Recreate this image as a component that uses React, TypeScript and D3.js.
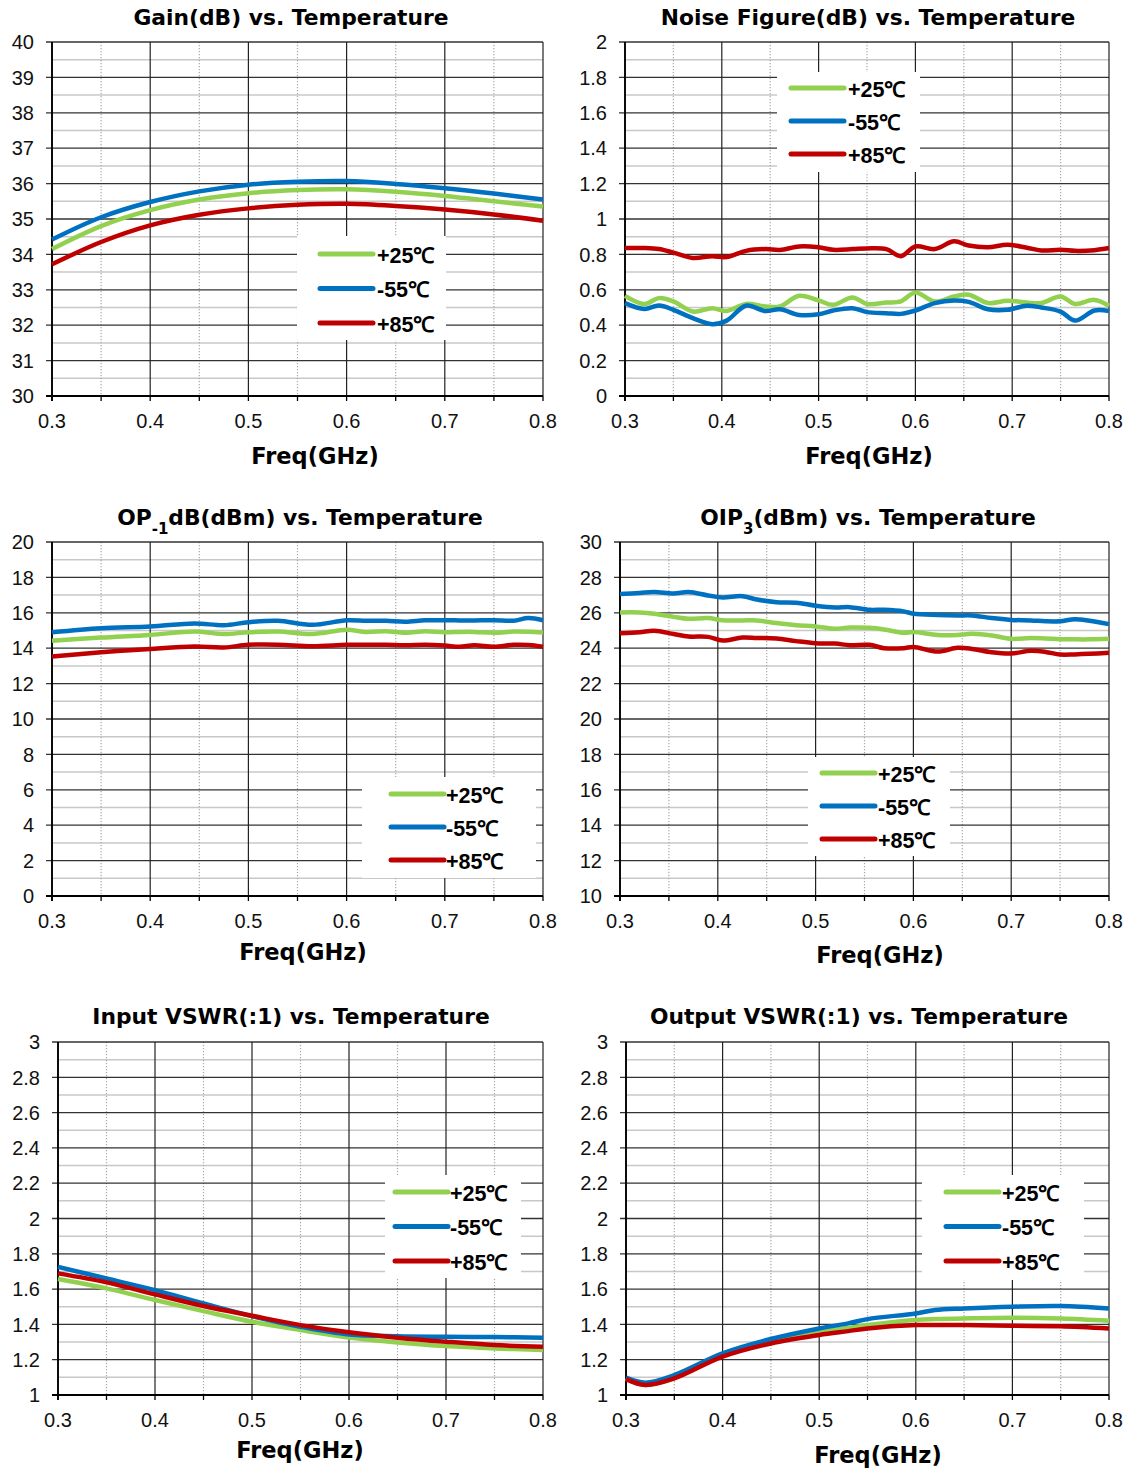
import * as d3 from 'd3'
import React from 'react'

// colours of the three temperature curves
const GREEN = '#92D050'
const BLUE = '#0070C0'
const RED = '#C00000'
const legendLabels = ['+25℃', '-55℃', '+85℃']

// Gain(dB)
const gainFreq = [0.3, 0.35, 0.4, 0.45, 0.5, 0.55, 0.6, 0.65, 0.7, 0.75, 0.8]
const gain25 = [34.15, 34.8, 35.25, 35.55, 35.73, 35.82, 35.84, 35.77, 35.65, 35.5, 35.35]
const gainM55 = [34.42, 35.05, 35.48, 35.78, 35.97, 36.05, 36.07, 35.99, 35.87, 35.72, 35.55]
const gain85 = [33.72, 34.35, 34.82, 35.12, 35.3, 35.4, 35.43, 35.37, 35.27, 35.13, 34.95]

// Noise figure(dB)
const nfFreq = [0.3, 0.32, 0.335, 0.35, 0.37, 0.39, 0.405, 0.425, 0.445, 0.46, 0.48, 0.5, 0.515, 0.535, 0.55,
  0.57, 0.585, 0.6, 0.62, 0.64, 0.655, 0.675, 0.695, 0.715, 0.73, 0.75, 0.765, 0.785, 0.8]
const nf25 = [0.566, 0.52, 0.553, 0.534, 0.477, 0.496, 0.48, 0.52, 0.506, 0.506, 0.566, 0.54, 0.515, 0.557, 0.52,
  0.528, 0.535, 0.585, 0.534, 0.562, 0.572, 0.525, 0.538, 0.528, 0.525, 0.562, 0.52, 0.543, 0.51]
const nfM55 = [0.525, 0.492, 0.511, 0.487, 0.44, 0.406, 0.426, 0.51, 0.48, 0.49, 0.458, 0.462, 0.483, 0.496, 0.474,
  0.468, 0.464, 0.483, 0.525, 0.54, 0.532, 0.49, 0.487, 0.51, 0.5, 0.477, 0.426, 0.483, 0.48]
const nf85 = [0.836, 0.836, 0.83, 0.81, 0.78, 0.79, 0.785, 0.82, 0.83, 0.825, 0.845, 0.84, 0.826, 0.83, 0.834,
  0.83, 0.79, 0.845, 0.83, 0.874, 0.85, 0.84, 0.855, 0.838, 0.822, 0.826, 0.82, 0.824, 0.836]

// OP-1dB(dBm)
const p1Freq = [0.3, 0.35, 0.4, 0.445, 0.475, 0.5, 0.53, 0.565, 0.6, 0.62, 0.64, 0.66, 0.68, 0.7, 0.715, 0.73, 0.75, 0.77, 0.785, 0.8]
const p125 = [14.42, 14.6, 14.75, 14.94, 14.8, 14.9, 14.94, 14.8, 15.04, 14.92, 14.96, 14.87, 14.96, 14.9, 14.92, 14.92, 14.87, 14.94, 14.93, 14.89]
const p1M55 = [14.9, 15.13, 15.23, 15.4, 15.3, 15.47, 15.55, 15.32, 15.58, 15.55, 15.55, 15.5, 15.58, 15.58, 15.57, 15.57, 15.58, 15.55, 15.7, 15.58]
const p185 = [13.53, 13.77, 13.96, 14.09, 14.04, 14.19, 14.2, 14.11, 14.19, 14.19, 14.19, 14.17, 14.2, 14.15, 14.08, 14.17, 14.08, 14.19, 14.18, 14.08]

// OIP3(dBm)
const ip3Freq = [0.3, 0.32, 0.335, 0.355, 0.37, 0.39, 0.405, 0.425, 0.44, 0.46, 0.48, 0.5, 0.52, 0.535, 0.555,
  0.57, 0.59, 0.6, 0.625, 0.645, 0.66, 0.68, 0.7, 0.72, 0.735, 0.75, 0.765, 0.78, 0.8]
const ip325 = [26.02, 26.02, 25.95, 25.77, 25.66, 25.7, 25.58, 25.57, 25.57, 25.42, 25.3, 25.23, 25.1, 25.17, 25.15,
  25.06, 24.87, 24.91, 24.75, 24.75, 24.81, 24.72, 24.53, 24.58, 24.55, 24.51, 24.5, 24.5, 24.53]
const ip3M55 = [27.06, 27.12, 27.17, 27.09, 27.17, 26.98, 26.87, 26.94, 26.75, 26.6, 26.57, 26.4, 26.3, 26.32, 26.17,
  26.17, 26.08, 25.95, 25.88, 25.85, 25.85, 25.7, 25.6, 25.57, 25.52, 25.52, 25.64, 25.55, 25.36]
const ip385 = [24.85, 24.9, 24.98, 24.8, 24.66, 24.64, 24.43, 24.6, 24.58, 24.55, 24.4, 24.28, 24.26, 24.17, 24.19,
  24.0, 24.0, 24.07, 23.81, 24.02, 23.96, 23.77, 23.7, 23.85, 23.79, 23.64, 23.65, 23.68, 23.74]

// Input VSWR
const inFreq = [0.3, 0.35, 0.4, 0.45, 0.5, 0.55, 0.6, 0.65, 0.7, 0.75, 0.8]
const in25 = [1.657, 1.604, 1.538, 1.475, 1.415, 1.368, 1.326, 1.298, 1.277, 1.264, 1.255]
const inM55 = [1.726, 1.66, 1.594, 1.519, 1.447, 1.387, 1.343, 1.333, 1.33, 1.328, 1.325]
const in85 = [1.689, 1.638, 1.57, 1.504, 1.449, 1.396, 1.355, 1.325, 1.302, 1.283, 1.274]

// Output VSWR
const outFreq = [0.3, 0.32, 0.35, 0.4, 0.45, 0.5, 0.53, 0.55, 0.6, 0.62, 0.65, 0.7, 0.75, 0.8]
const out25 = [1.094, 1.057, 1.098, 1.223, 1.302, 1.358, 1.38, 1.396, 1.425, 1.43, 1.434, 1.438, 1.434, 1.421]
const outM55 = [1.098, 1.07, 1.113, 1.236, 1.317, 1.377, 1.406, 1.43, 1.462, 1.481, 1.49, 1.5, 1.504, 1.49]
const out85 = [1.09, 1.057, 1.094, 1.217, 1.292, 1.34, 1.362, 1.377, 1.396, 1.397, 1.396, 1.392, 1.39, 1.377]

const TICK_FONT = 'Liberation Sans, Arial, sans-serif'
const BOLD_FONT = 'DejaVu Sans, Verdana, sans-serif'

function Panel(props) {
  const { box, yMin, yMax, yStep, title, titleX, titleY, xTitleX, xTitleY, legend, freq, series } = props
  const x = d3.scaleLinear().domain([0.3, 0.8]).range([box.l, box.r])
  const y = d3.scaleLinear().domain([yMin, yMax]).range([box.b, box.t])

  const n = Math.round((yMax - yMin) / yStep)
  const majorY = d3.range(n + 1).map(i => +(yMin + i * yStep).toFixed(4))
  const minorY = d3.range(n).map(i => yMin + (i + 0.5) * yStep)
  const majorX = d3.range(6).map(i => +(0.3 + i * 0.1).toFixed(2))
  const minorX = d3.range(5).map(i => 0.35 + i * 0.1)
  const allX = d3.range(11).map(i => 0.3 + i * 0.05)

  const line = d3.line().x(d => x(d[0])).y(d => y(d[1])).curve(d3.curveCatmullRom.alpha(0.5))
  const colors = [GREEN, BLUE, RED]

  return (
    <g>
      {/* minor grid */}
      {minorY.map((v, i) => (
        <line key={'my' + i} x1={box.l} x2={box.r} y1={y(v)} y2={y(v)} stroke="#c8c8c8" strokeWidth={1.5} />
      ))}
      {minorX.map((v, i) => (
        <line key={'mx' + i} x1={x(v)} x2={x(v)} y1={box.t} y2={box.b} stroke="#a8a8a8" strokeWidth={1.2} strokeDasharray="1.2,1.8" />
      ))}
      {/* major grid */}
      {majorY.map((v, i) => (
        <line key={'gy' + i} x1={box.l - 6} x2={box.r} y1={y(v)} y2={y(v)} stroke="#333" strokeWidth={1.3} />
      ))}
      {majorX.map((v, i) => (
        <line key={'gx' + i} x1={x(v)} x2={x(v)} y1={box.t} y2={box.b} stroke="#222" strokeWidth={1.2} />
      ))}
      {/* axes */}
      <line x1={box.l} x2={box.l} y1={box.t} y2={box.b + 5} stroke="#000" strokeWidth={1.8} />
      <line x1={box.l - 6} x2={box.r} y1={box.b} y2={box.b} stroke="#000" strokeWidth={1.8} />
      {allX.map((v, i) => (
        <line key={'tx' + i} x1={x(v)} x2={x(v)} y1={box.b} y2={box.b + 5} stroke="#000" strokeWidth={1.3} />
      ))}
      {majorY.map((v, i) => (
        <text key={'ly' + i} x={box.l - 18} y={y(v)} dy="0.36em" textAnchor="end" fontFamily={TICK_FONT} fontSize={20} fill="#111">
          {String(v)}
        </text>
      ))}
      {majorX.map((v, i) => (
        <text key={'lx' + i} x={x(v)} y={box.b + 32} textAnchor="middle" fontFamily={TICK_FONT} fontSize={20} fill="#111">
          {v.toFixed(1)}
        </text>
      ))}
      {/* curves */}
      {series.map((s, i) => (
        <path key={'s' + i} d={line(freq.map((f, j) => [f, s[j]]))} fill="none" stroke={colors[i]} strokeWidth={4.5} strokeLinejoin="round" />
      ))}
      {/* legend */}
      <rect x={legend.x0} y={legend.y0} width={legend.x1 - legend.x0} height={legend.y1 - legend.y0} fill="#fff" />
      {legendLabels.map((lab, i) => (
        <g key={'lg' + i}>
          <line x1={legend.lx} x2={legend.lx + 53} y1={legend.ly + i * legend.dy} y2={legend.ly + i * legend.dy}
            stroke={colors[i]} strokeWidth={5} strokeLinecap="round" />
          <text x={legend.tx} y={legend.ly + i * legend.dy} dy="0.4em" fontFamily={TICK_FONT} fontWeight="bold" fontSize={21.5} fill="#000">
            {lab}
          </text>
        </g>
      ))}
      {/* titles */}
      <text x={titleX} y={titleY} dy="0.36em" textAnchor="middle" fontFamily={BOLD_FONT} fontWeight="bold" fontSize={21.8} fill="#000">
        {title}
      </text>
      <text x={xTitleX} y={xTitleY} dy="0.36em" textAnchor="middle" fontFamily={BOLD_FONT} fontWeight="bold" fontSize={22.5} fill="#000">
        Freq(GHz)
      </text>
    </g>
  )
}

export default function App() {
  return (
    <svg width={1129} height={1469} style={{ position: 'absolute', left: 0, top: 0, background: '#fff' }}>
      <rect width={1129} height={1469} fill="#fff" />
      <Panel box={{ l: 52, r: 543, t: 42, b: 396 }} yMin={30} yMax={40} yStep={1}
        title="Gain(dB) vs. Temperature" titleX={291} titleY={17} xTitleX={315} xTitleY={456}
        legend={{ x0: 297, x1: 446, y0: 236, y1: 340, lx: 320, ly: 254, dy: 34.5, tx: 377 }}
        freq={gainFreq} series={[gain25, gainM55, gain85]} />
      <Panel box={{ l: 625, r: 1109, t: 42, b: 396 }} yMin={0} yMax={2} yStep={0.2}
        title="Noise Figure(dB) vs. Temperature" titleX={868} titleY={17} xTitleX={869} xTitleY={456}
        legend={{ x0: 777, x1: 920, y0: 72, y1: 172, lx: 791, ly: 88, dy: 33, tx: 848 }}
        freq={nfFreq} series={[nf25, nfM55, nf85]} />
      <Panel box={{ l: 52, r: 543, t: 542, b: 896 }} yMin={0} yMax={20} yStep={2}
        title={<>OP<tspan baselineShift="sub" fontSize={15}>-1</tspan><tspan>dB(dBm) vs. Temperature</tspan></>}
        titleX={300} titleY={517} xTitleX={303} xTitleY={952}
        legend={{ x0: 362, x1: 536, y0: 777, y1: 878, lx: 391, ly: 794, dy: 33, tx: 446 }}
        freq={p1Freq} series={[p125, p1M55, p185]} />
      <Panel box={{ l: 620, r: 1109, t: 542, b: 896 }} yMin={10} yMax={30} yStep={2}
        title={<>OIP<tspan baselineShift="sub" fontSize={15}>3</tspan><tspan>(dBm) vs. Temperature</tspan></>}
        titleX={868} titleY={517} xTitleX={880} xTitleY={955}
        legend={{ x0: 808, x1: 950, y0: 757, y1: 856, lx: 822, ly: 773, dy: 33, tx: 878 }}
        freq={ip3Freq} series={[ip325, ip3M55, ip385]} />
      <Panel box={{ l: 58, r: 543, t: 1042, b: 1395 }} yMin={1} yMax={3} yStep={0.2}
        title="Input VSWR(:1) vs. Temperature" titleX={291} titleY={1016} xTitleX={300} xTitleY={1450}
        legend={{ x0: 385, x1: 521, y0: 1175, y1: 1278, lx: 395, ly: 1192, dy: 34.5, tx: 450 }}
        freq={inFreq} series={[in25, inM55, in85]} />
      <Panel box={{ l: 626, r: 1109, t: 1042, b: 1395 }} yMin={1} yMax={3} yStep={0.2}
        title="Output VSWR(:1) vs. Temperature" titleX={859} titleY={1016} xTitleX={878} xTitleY={1455}
        legend={{ x0: 922, x1: 1084, y0: 1175, y1: 1280, lx: 946, ly: 1192, dy: 34.5, tx: 1002 }}
        freq={outFreq} series={[out25, outM55, out85]} />
    </svg>
  )
}
